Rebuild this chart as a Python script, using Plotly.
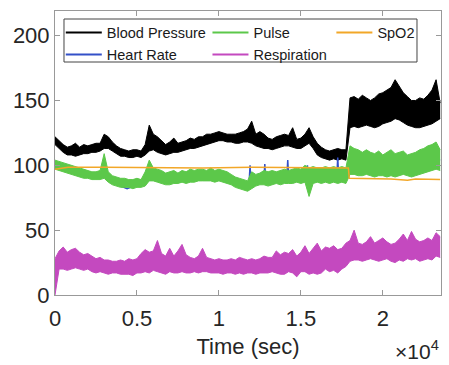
import plotly.graph_objects as go

FONT = "Liberation Sans, Arial, Helvetica, sans-serif"

# sample times (s), every 250 s
t = list(range(0, 23501, 250))

bp_lo = [116,113,110,108,108,107,108,109,109,110,110,111,113,113,111,109,107,107,106,106,
         107,106,108,111,112,110,109,108,109,110,110,111,112,113,113,114,115,116,117,118,
         119,119,118,118,117,117,118,118,117,115,114,113,113,112,113,114,115,115,114,113,
         113,115,117,113,108,106,105,104,105,104,105,104,129,130,129,130,131,130,129,130,
         132,133,134,136,135,133,131,130,129,129,130,131,132,134,136]
bp_hi = [122,119,116,114,115,117,114,116,115,116,117,117,124,122,118,115,113,112,111,112,
         112,111,116,131,124,122,119,116,118,121,117,118,119,121,120,122,122,124,124,125,
         126,125,124,124,124,125,126,128,134,124,126,124,121,120,122,123,124,123,129,120,
         121,124,129,122,117,114,112,111,112,113,112,112,152,153,151,154,152,150,152,155,
         156,158,160,166,161,156,153,150,150,152,151,154,158,166,148]

pulse_lo = [97,96,95,94,93,92,91,90,90,89,89,89,90,87,85,84,83,83,83,82,
            83,83,84,88,88,87,86,85,85,86,86,87,86,87,87,88,88,88,88,87,
            88,87,86,85,83,82,81,80,82,84,85,85,84,85,86,85,86,86,86,87,
            86,87,76,86,87,86,87,86,87,86,87,86,93,93,92,92,93,92,91,92,
            92,91,92,91,92,93,92,91,92,93,94,95,96,97,96]
pulse_hi = [104,103,102,101,100,99,98,97,96,95,95,96,109,95,92,91,90,90,89,89,
            90,89,95,104,98,97,96,94,95,96,94,96,95,97,96,97,97,96,98,96,
            97,96,95,93,91,90,89,88,95,93,94,96,95,96,95,96,97,96,97,98,
            97,100,98,99,98,98,99,98,99,98,99,98,115,113,112,110,112,110,109,111,
            108,110,112,109,110,111,108,109,110,112,113,115,116,118,112]

resp_lo = [0,20,20,19,20,21,20,19,20,18,17,18,17,16,17,17,16,16,16,15,
           17,17,18,17,19,18,17,16,18,17,17,18,17,17,18,17,18,18,17,17,
           17,16,17,17,16,17,16,17,17,16,17,17,17,18,17,16,16,18,17,14,
           18,18,16,17,16,17,20,18,19,17,20,22,26,27,27,26,27,28,27,26,
           27,28,26,25,27,26,28,27,28,26,27,28,27,30,29]
resp_hi = [28,34,37,33,35,36,33,31,32,30,28,29,27,27,26,26,27,26,28,27,
           28,32,35,33,34,42,32,30,36,30,34,39,31,29,28,30,36,29,28,27,
           28,27,27,28,27,29,28,27,28,27,28,30,29,29,34,31,33,32,35,30,
           33,38,32,36,40,34,37,36,38,35,36,40,42,50,40,39,41,45,40,42,
           44,41,39,40,43,47,42,49,43,41,42,44,42,48,45]

hr_t = [0,500,1000,1500,2000,2500,2900,3000,3100,3600,4000,4400,4800,5200,5600,6000,
        6500,7000,7500,8000,8500,9000,9500,10000,10500,11000,11500,11850,11900,11950,
        12400,12750,12800,12850,13300,13800,14150,14200,14250,14800,15350,15400,15450,
        16000,16600,17200,17250,17300,17800,18200,19000,20000,21000,22000,23000,23500]
hr = [101,100,97,95,93,92,94,105,93,86,84,82,84,84,96,93,
      91,90,91,91,92,92,93,92,91,87,85,88,100,88,
      89,90,101,90,91,91,92,104,92,92,93,100,92,
      93,93,93,106,93,92,103,101,100,101,101,105,104]

spo2_t = [0,800,3000,6000,9000,12000,15000,17900,17950,19000,20500,21500,22000,23500]
spo2 = [97,98.5,98.5,98,98,98.5,98,98,90,90,89.5,88.5,89.5,89]

x_tickvals = [0, 5000, 10000, 15000, 20000]
x_ticktext = ["0", "0.5", "1", "1.5", "2"]
y_tickvals = [0, 50, 100, 150, 200]

C_BP = "#000000"
C_HR = "#3350c8"
C_PULSE = "#5cc84a"
C_RESP = "#c449bf"
C_SPO2 = "#f2a728"

fig = go.Figure()


def band(x, lo, hi, color):
    fig.add_trace(go.Scatter(x=x, y=lo, mode="lines", line=dict(color=color, width=1),
                             showlegend=False, hoverinfo="skip"))
    fig.add_trace(go.Scatter(x=x, y=hi, mode="lines", line=dict(color=color, width=1),
                             fill="tonexty", fillcolor=color, showlegend=False, hoverinfo="skip"))


band(t, bp_lo, bp_hi, C_BP)
fig.add_trace(go.Scatter(x=hr_t, y=hr, mode="lines", line=dict(color=C_HR, width=1.5),
                         showlegend=False, hoverinfo="skip"))
band(t, pulse_lo, pulse_hi, C_PULSE)
band(t, resp_lo, resp_hi, C_RESP)
fig.add_trace(go.Scatter(x=spo2_t, y=spo2, mode="lines", line=dict(color=C_SPO2, width=1.5),
                         showlegend=False, hoverinfo="skip"))

# legend entries
for name, color, lg in [("Blood Pressure", C_BP, "legend"), ("Heart Rate", C_HR, "legend"),
                        ("Pulse", C_PULSE, "legend2"), ("Respiration", C_RESP, "legend2"),
                        ("SpO2", C_SPO2, "legend3")]:
    fig.add_trace(go.Scatter(x=[None], y=[None], mode="lines", name=name,
                             line=dict(color=color, width=2), legend=lg, legendgroup=name))

lg_common = dict(bgcolor="rgba(0,0,0,0)", borderwidth=0, xanchor="left", yanchor="top",
                 font=dict(size=14.5, color="#1a1a1a", family=FONT), itemwidth=36,
                 tracegroupgap=0)

fig.update_layout(
    width=449, height=365,
    margin=dict(l=55, r=8, t=11, b=70),
    paper_bgcolor="white", plot_bgcolor="white",
    font=dict(family=FONT, color="#262626"),
    legend=dict(x=0.015, y=0.98, **lg_common),
    legend2=dict(x=0.395, y=0.98, **lg_common),
    legend3=dict(x=0.716, y=0.98, **lg_common),
    xaxis=dict(range=[0, 23550], tickvals=x_tickvals, ticktext=x_ticktext,
               ticks="inside", ticklen=5, tickcolor="#999", showline=True,
               linecolor="#999", linewidth=1, mirror="ticks", showgrid=False,
               zeroline=False, tickfont=dict(size=22, color="#262626"),
               ticklabelstandoff=4,
               title=dict(text="Time (sec)", font=dict(size=22, color="#262626"), standoff=8)),
    yaxis=dict(range=[0, 219], tickvals=y_tickvals, ticks="inside", ticklen=5,
               tickcolor="#999", showline=True, linecolor="#999", linewidth=1,
               mirror="ticks", showgrid=False, zeroline=False,
               tickfont=dict(size=22, color="#262626")),
    shapes=[dict(type="rect", xref="paper", yref="paper", x0=0.0233, x1=0.9378,
                 y0=0.8204, y1=0.9718, line=dict(color="#444", width=1),
                 fillcolor="white", layer="above")],
    annotations=[dict(text="×10<sup>4</sup>", xref="paper", yref="paper", x=1.0, y=-0.195,
                      xanchor="right", yanchor="middle", showarrow=False,
                      font=dict(size=21, color="#262626"))],
)

fig.write_html("out.html")
